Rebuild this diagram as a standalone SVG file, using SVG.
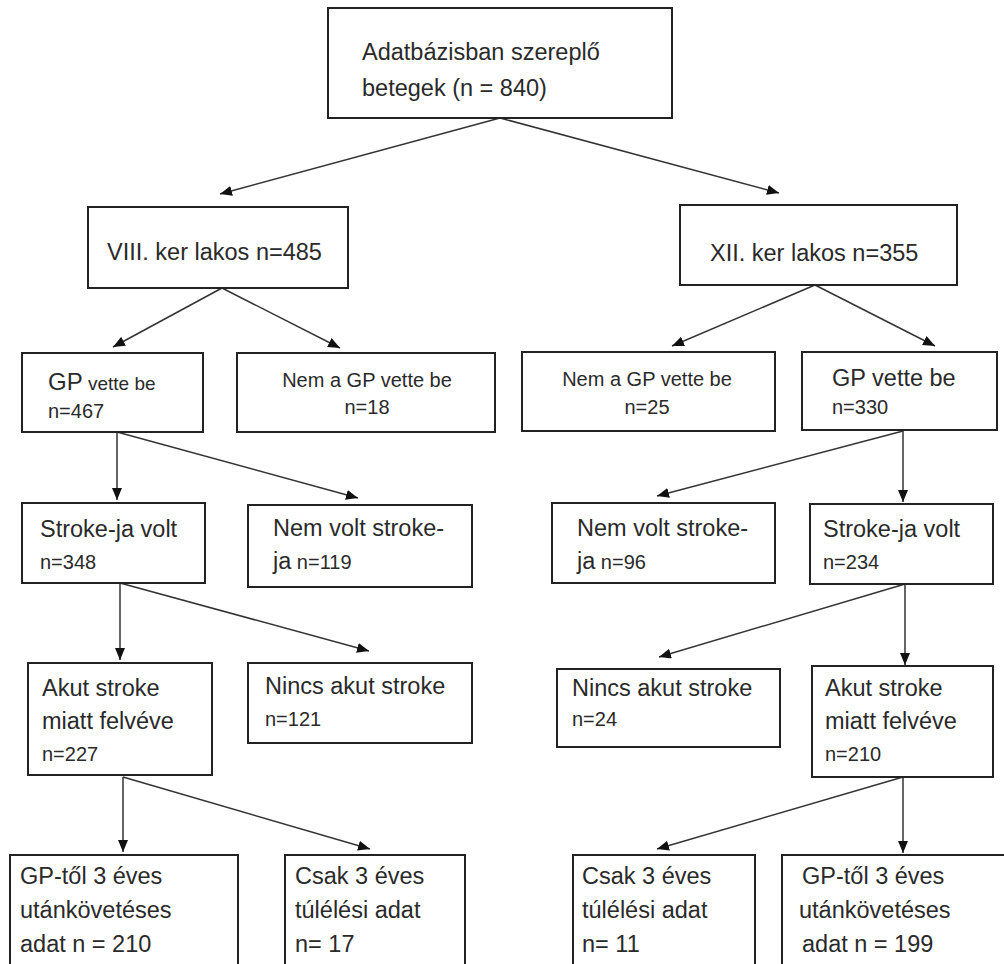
<svg xmlns="http://www.w3.org/2000/svg" width="1004" height="964" viewBox="0 0 1004 964">
<style>
.box{fill:#fff;stroke:#222;stroke-width:2}
text{font-family:"Liberation Sans",Arial,sans-serif;fill:#2a2a2a}
.b{font-size:23.5px}
.s{font-size:20px}
.c{text-anchor:middle}
.con line{stroke:#333;stroke-width:1.5;marker-end:url(#ah)}
</style>
<defs>
<marker id="ah" markerUnits="userSpaceOnUse" markerWidth="12" markerHeight="10" refX="12" refY="5" orient="auto">
<path d="M0,0 L12,5 L0,10 z" fill="#111"/>
</marker>
</defs>
<rect width="1004" height="964" fill="#fff"/>
<g class="con">
<line x1="500" y1="118" x2="220" y2="194"/>
<line x1="500" y1="118" x2="779" y2="193"/>
<line x1="222" y1="288" x2="113" y2="347"/>
<line x1="222" y1="288" x2="340" y2="348"/>
<line x1="815" y1="285" x2="672" y2="346"/>
<line x1="815" y1="285" x2="935" y2="346"/>
<line x1="117" y1="432" x2="117" y2="500"/>
<line x1="117" y1="432" x2="358" y2="498"/>
<line x1="903" y1="431" x2="657" y2="496"/>
<line x1="903" y1="431" x2="903" y2="502"/>
<line x1="120" y1="583" x2="120" y2="660"/>
<line x1="120" y1="583" x2="369" y2="651"/>
<line x1="905" y1="584" x2="659" y2="657"/>
<line x1="905" y1="584" x2="905" y2="665"/>
<line x1="123" y1="777" x2="123" y2="852"/>
<line x1="123" y1="777" x2="370" y2="849"/>
<line x1="903" y1="777" x2="903" y2="853"/>
<line x1="903" y1="777" x2="657" y2="849"/>
</g>
<g id="n-root">
<rect class="box" x="328" y="8" width="344" height="110"/>
<text class="b" x="362" y="60">Adatbázisban szereplő</text>
<text class="b" x="362" y="96">betegek (n = 840)</text>
</g>
<g id="n-viii">
<rect class="box" x="88" y="207" width="260" height="81"/>
<text class="b" x="107" y="260">VIII. ker lakos n=485</text>
</g>
<g id="n-xii">
<rect class="box" x="680" y="205" width="277" height="80"/>
<text class="b" x="710" y="261">XII. ker lakos n=355</text>
</g>
<g id="n-gp-l">
<rect class="box" x="22" y="353" width="181" height="79"/>
<text x="48" y="390"><tspan style="font-size:24px">GP</tspan><tspan style="font-size:19px"> vette be</tspan></text>
<text class="s" x="48" y="418">n=467</text>
</g>
<g id="n-nemgp-l">
<rect class="box" x="237" y="353" width="258" height="79"/>
<text class="s c" x="367" y="387">Nem a GP vette be</text>
<text class="s c" x="367" y="414">n=18</text>
</g>
<g id="n-nemgp-r">
<rect class="box" x="522" y="352" width="253" height="79"/>
<text class="s c" x="647" y="386">Nem a GP vette be</text>
<text class="s c" x="647" y="414">n=25</text>
</g>
<g id="n-gp-r">
<rect class="box" x="802" y="352" width="195" height="78"/>
<text class="b" x="832" y="386">GP vette be</text>
<text class="s" x="832" y="414">n=330</text>
</g>
<g id="n-stroke-l">
<rect class="box" x="22" y="503" width="183" height="80"/>
<text class="b" x="40" y="537">Stroke-ja volt</text>
<text class="s" x="40" y="569">n=348</text>
</g>
<g id="n-nostroke-l">
<rect class="box" x="248" y="505" width="224" height="82"/>
<text class="b" x="273" y="536">Nem volt stroke-</text>
<text x="273" y="569"><tspan class="b">ja</tspan><tspan class="s"> n=119</tspan></text>
</g>
<g id="n-nostroke-r">
<rect class="box" x="552" y="503" width="223" height="80"/>
<text class="b" x="577" y="536">Nem volt stroke-</text>
<text x="577" y="569"><tspan class="b">ja</tspan><tspan class="s"> n=96</tspan></text>
</g>
<g id="n-stroke-r">
<rect class="box" x="810" y="504" width="183" height="80"/>
<text class="b" x="823" y="537">Stroke-ja volt</text>
<text class="s" x="823" y="569">n=234</text>
</g>
<g id="n-akut-l">
<rect class="box" x="28" y="663" width="184" height="112"/>
<text class="b" x="42" y="696">Akut stroke</text>
<text class="b" x="42" y="729">miatt felvéve</text>
<text class="s" x="42" y="761">n=227</text>
</g>
<g id="n-nincs-l">
<rect class="box" x="248" y="663" width="224" height="80"/>
<text class="b" x="265" y="694">Nincs akut stroke</text>
<text class="s" x="265" y="726">n=121</text>
</g>
<g id="n-nincs-r">
<rect class="box" x="557" y="669" width="223" height="78"/>
<text class="b" x="572" y="696">Nincs akut stroke</text>
<text class="s" x="572" y="726">n=24</text>
</g>
<g id="n-akut-r">
<rect class="box" x="812" y="666" width="181" height="111"/>
<text class="b" x="825" y="696">Akut stroke</text>
<text class="b" x="825" y="729">miatt felvéve</text>
<text class="s" x="825" y="761">n=210</text>
</g>
<g id="n-gp3-l">
<rect class="box" x="10" y="855" width="228" height="120"/>
<text class="b" x="20" y="884">GP-től 3 éves</text>
<text class="b" x="20" y="918">utánkövetéses</text>
<text class="b" x="20" y="952">adat n = 210</text>
</g>
<g id="n-csak-l">
<rect class="box" x="285" y="855" width="180" height="120"/>
<text class="b" x="295" y="884">Csak 3 éves</text>
<text class="b" x="295" y="918">túlélési adat</text>
<text class="b" x="295" y="952">n= 17</text>
</g>
<g id="n-csak-r">
<rect class="box" x="573" y="855" width="182" height="120"/>
<text class="b" x="582" y="884">Csak 3 éves</text>
<text class="b" x="582" y="918">túlélési adat</text>
<text class="b" x="582" y="952">n= 11</text>
</g>
<g id="n-gp3-r">
<rect class="box" x="782" y="855" width="240" height="120"/>
<text class="b" x="802" y="884">GP-től 3 éves</text>
<text class="b" x="799" y="918">utánkövetéses</text>
<text class="b" x="802" y="952">adat n = 199</text>
</g>
</svg>
